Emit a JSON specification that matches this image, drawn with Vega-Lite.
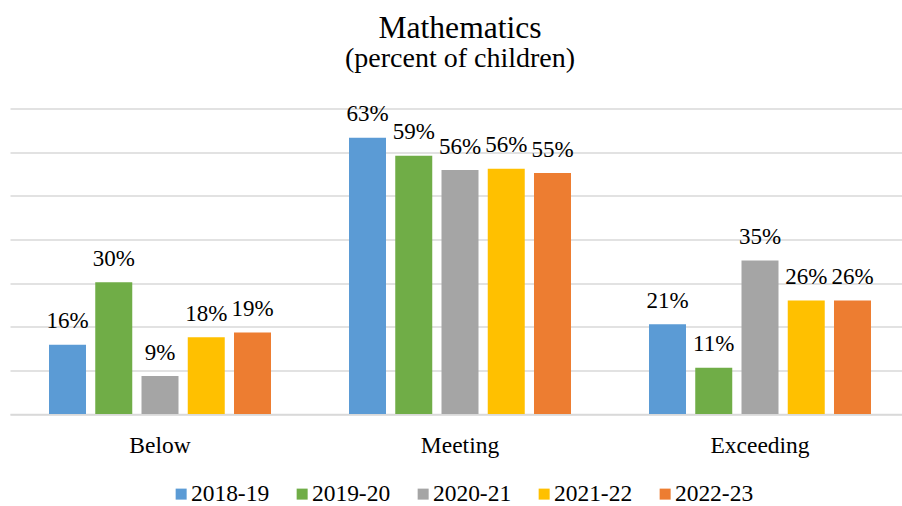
{
  "$schema": "https://vega.github.io/schema/vega-lite/v6.json",
  "width": 892,
  "height": 305.6,
  "padding": {"left": 10, "top": 12.5, "right": 0, "bottom": 0},
  "background": "white",
  "title": {
    "text": "Mathematics",
    "subtitle": "(percent of children)",
    "font": "Liberation Serif",
    "subtitleFont": "Liberation Serif",
    "fontSize": 31.6,
    "subtitleFontSize": 28,
    "fontWeight": "normal",
    "color": "#000000",
    "subtitleColor": "#000000",
    "anchor": "middle",
    "dx": 4,
    "subtitlePadding": 0,
    "offset": 30.5
  },
  "data": {
    "values": [
      {"level": "Below", "year": "2018-19", "share": 0.159},
      {"level": "Below", "year": "2019-20", "share": 0.302},
      {"level": "Below", "year": "2020-21", "share": 0.087},
      {"level": "Below", "year": "2021-22", "share": 0.176},
      {"level": "Below", "year": "2022-23", "share": 0.187},
      {"level": "Meeting", "year": "2018-19", "share": 0.633},
      {"level": "Meeting", "year": "2019-20", "share": 0.592},
      {"level": "Meeting", "year": "2020-21", "share": 0.559},
      {"level": "Meeting", "year": "2021-22", "share": 0.562},
      {"level": "Meeting", "year": "2022-23", "share": 0.552},
      {"level": "Exceeding", "year": "2018-19", "share": 0.206},
      {"level": "Exceeding", "year": "2019-20", "share": 0.106},
      {"level": "Exceeding", "year": "2020-21", "share": 0.352},
      {"level": "Exceeding", "year": "2021-22", "share": 0.26},
      {"level": "Exceeding", "year": "2022-23", "share": 0.26}
    ]
  },
  "encoding": {
    "x": {
      "field": "level",
      "type": "nominal",
      "sort": ["Below", "Meeting", "Exceeding"],
      "scale": {"range": [0, 900], "paddingInner": 0.26, "paddingOuter": 0.13},
      "axis": {
        "title": null,
        "labelAngle": 0,
        "labelFont": "Liberation Serif",
        "labelFontSize": 23.5,
        "labelColor": "#000000",
        "labelPadding": 19,
        "ticks": false,
        "domainColor": "#D9D9D9",
        "domainWidth": 1.5
      }
    },
    "xOffset": {
      "field": "year",
      "type": "nominal",
      "sort": ["2018-19", "2019-20", "2020-21", "2021-22", "2022-23"],
      "scale": {"paddingInner": 0.2, "paddingOuter": 0}
    },
    "y": {
      "field": "share",
      "type": "quantitative",
      "scale": {"domain": [0, 0.7], "nice": false},
      "axis": {
        "title": null,
        "labels": false,
        "ticks": false,
        "domain": false,
        "values": [0, 0.1, 0.2, 0.3, 0.4, 0.5, 0.6, 0.7],
        "gridColor": "#D9D9D9",
        "gridWidth": 1.5
      }
    }
  },
  "layer": [
    {
      "mark": {"type": "bar"},
      "encoding": {
        "color": {
          "field": "year",
          "type": "nominal",
          "sort": ["2018-19", "2019-20", "2020-21", "2021-22", "2022-23"],
          "scale": {
            "domain": ["2018-19", "2019-20", "2020-21", "2021-22", "2022-23"],
            "range": ["#5B9BD5", "#70AD47", "#A5A5A5", "#FFC000", "#ED7D31"]
          },
          "legend": {
            "title": null,
            "orient": "none",
            "direction": "horizontal",
            "legendX": 159.4,
            "legendY": 373.5,
            "padding": 0,
            "symbolType": "square",
            "symbolSize": 121,
            "symbolStrokeWidth": 0,
            "symbolOpacity": 1,
            "labelFont": "Liberation Serif",
            "labelFontSize": 23.5,
            "labelColor": "#000000",
            "labelOffset": -2,
            "columnPadding": 21,
            "labelLimit": 300
          }
        }
      }
    },
    {
      "mark": {
        "type": "text",
        "baseline": "alphabetic",
        "dy": -16.5,
        "font": "Liberation Serif",
        "fontSize": 23,
        "color": "#000000"
      },
      "encoding": {
        "text": {"field": "share", "type": "quantitative", "format": ".0%"}
      }
    }
  ],
  "config": {
    "font": "Liberation Serif",
    "view": {"stroke": null}
  }
}
